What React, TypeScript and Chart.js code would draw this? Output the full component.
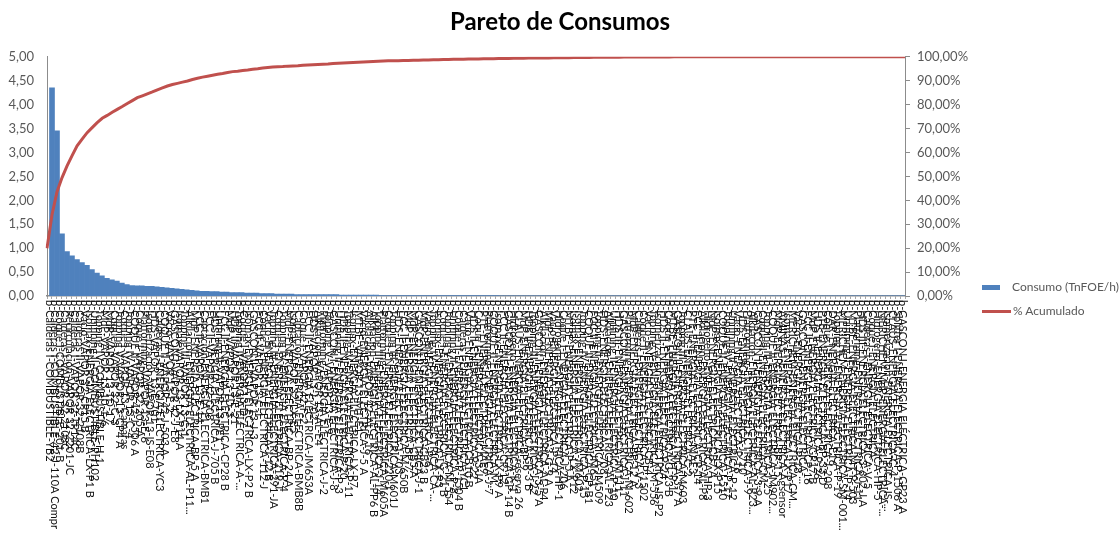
import { useEffect, useRef } from 'react';
import { Chart, registerables } from 'chart.js';
Chart.register(...registerables);

const title = 'Pareto de Consumos';
const barSeriesName = 'Consumo (TnFOE/h)';
const lineSeriesName = '% Acumulado';

const categories: string[] = [
  'b-Calderas I-COMBUSTIBLE-YB2', 'b-Calderas I-COMBUSTIBLE-42-J-110A Compr', 'b-Coque I-COMBUSTIBLE-201-B', 'b-Calderas I-VAPOR 32-2108C', 'b-Recirculacion-VAPOR 32-2201-JC',
  'b-Calderas I-VAPOR 32-TP14C', 'b-Calderas II-VAPOR 32-2108B', 'b-Vacio-VAPOR 32-CP15 B', 'b-Isomax-ENERGIA ELECTRICA-LX-P1 B', 'b-Unifining II-COMBUSTIBLE-PH102',
  'b-Topping IV-COMBUSTIBLE-H-1', 'b-MdP-VAPOR 13-10-1-6', 'b-MdP-VAPOR 13-TD-17', 'b-Coque I-VAPOR 32-C-3', 'b-Topping V-VAPOR 13-CP4 A',
  'b-Coque I-VAPOR 13-Camaras', 'b-Topping IV-VAPOR 13-C-4', 'b-COQUE II-VAPOR 42-J-506 A', 'b-Coque I-VAPOR 32-205 A', 'b-Platforming-VAPOR 13-E-6',
  'b-Isomerizacion-VAPOR 13-IS-E08', 'b-HDS-VAPOR 13-E-701', 'b-Calderas I-ENERGIA ELECTRICA-YC3', 'b-COQUE II-VAPOR 42-J-503 A', 'b-Vacio-VAPOR 13-E-2',
  'b-GASCON I-VAPOR 42-J-E8', 'b-Isomax-VAPOR 13-LX-P14 A', 'b-Topping III-VAPOR 13-C-1', 'b-Alkilacion-ENERGIA ELECTRICA-AL-P11...', 'b-MdP-ENERGIA ELECTRICA-BP-5 A',
  'b-FCC II-VAPOR 13-E-14', 'b-Captacion-ENERGIA ELECTRICA-BMB1', 'b-FCC II-VAPOR 42-G08', 'b-HDS-ENERGIA ELECTRICA-J-705 B', 'b-Unifining II-VAPOR 13-PE1',
  'b-FCC II-ENERGIA ELECTRICA-CP28 B', 'b-MdP-VAPOR 13-TD-3', 'b-HDS II-VAPOR 13-E-21', 'b-Topping II-ENERGIA ELECTRICA-A-...', 'b-Coque I-VAPOR 13-D-7',
  'b-Isomax-ENERGIA ELECTRICA-LX-P2 B', 'b-GASCON II-VAPOR 13-J-3', 'b-FCC II-VAPOR 13-C-1', 'b-Coque I-ENERGIA ELECTRICA-112-J', 'b-Vacio-ENERGIA ELECTRICA-J-12 B',
  'b-Topping III-ENERGIA ELECTRICA-291-JA', 'b-Coque I-ENERGIA ELECTRICA-219-J', 'b-Topping IV-ENERGIA ELECTRICA-P-4', 'b-MdP-ENERGIA ELECTRICA-BP-24 A', 'b-Isomax-VAPOR 32-LX-E5',
  'b-Captacion-ENERGIA ELECTRICA-BMB8B', 'b-Coque I-VAPOR 42-F-2', 'b-FCC II-ENERGIA ELECTRICA-JM653A', 'b-HDS-VAPOR 13-J-702', 'b-Alkilacion-VAPOR 13-AL-E4',
  'b-Platforming-ENERGIA ELECTRICA-J-2', 'b-Topping V-VAPOR 13-E-9', 'b-GASCON I-ENERGIA ELECTRICA-J-8', 'b-Unifining II-ENERGIA ELECTRICA-P-3', 'b-HDS II-ENERGIA ELECTRICA-P-20',
  'b-Topping IV-ENERGIA ELECTRICA-P-11', 'b-Isomax-ENERGIA ELECTRICA-LX-P7', 'b-MTBE-VAPOR 13-MT-E1', 'b-Vacio-ENERGIA ELECTRICA-J-5 A', 'b-Alkilacion-VAPOR 42-AL-E 16',
  'b-Alkilacion-ENERGIA ELECTRICA-AL-PP6 B', 'b-Topping III-ENERGIA ELECTRICA-J-14', 'b-Platforming-ENERGIA ELECTRICA-M605A', 'b-Coque I-ENERGIA ELECTRICA-220-J', 'b-Topping III-ENERGIA ELECTRICA-M601J',
  'b-HDS-ENERGIA ELECTRICA-J-703', 'b-FCC II-ENERGIA ELECTRICA-M 650B', 'b-MdP-ENERGIA ELECTRICA-BP-7', 'b-MdP-ENERGIA ELECTRICA-CB5 A', 'b-GASCON II-ENERGIA ELECTRICA-J-1',
  'b-MdP-ENERGIA ELECTRICA-CB23 B', 'b-Vacio-ENERGIA ELECTRICA-P-6', 'b-Topping IV-ENERGIA ELECTRICA-CA-...', 'b-Isomax-ENERGIA ELECTRICA-LX-P3', 'b-Coque I-ENERGIA ELECTRICA-G-21 B',
  'b-Topping V-ENERGIA ELECTRICA-M-554', 'b-Unifining II-ENERGIA ELECTRICA-P-8', 'b-Coque II-ENERGIA ELECTRICA-P-1504 B', 'b-Calderas I-ENERGIA ELECTRICA-YC1', 'b-Vacio-ENERGIA ELECTRICA-CB10 B',
  'b-HDS II-ENERGIA ELECTRICA-P-22', 'b-Coque I-ENERGIA ELECTRICA-3-JA', 'b-PTE-ENERGIA ELECTRICA-MAE9', 'b-Platforming-ENERGIA ELECTRICA-J-7', 'b-COQUE II-ENERGIA ELECTRICA-M...',
  'b-Isomax-ENERGIA ELECTRICA-LX-P9 A', 'b-FCC II-ENERGIA ELECTRICA-CP-12', 'b-GASCON I-ENERGIA ELECTRICA-GP-14 B', 'b-Hidrogeno-ENERGIA ELECTRICA-K-1', 'b-CLAUS-ENERGIA ELECTRICA-reserva 26',
  'b-MdP-ENERGIA ELECTRICA-BP-9', 'b-HDS II-ENERGIA ELECTRICA-GP-3 B', 'b-Topping III-ENERGIA ELECTRICA-J-22', 'b-GASCON II-ENERGIA ELECTRICA-3-5 A', 'b-Alkilacion-ENERGIA ELECTRICA-AL-P4',
  'b-MdP-ENERGIA ELECTRICA-3-G-9 A', 'b-Vacio-ENERGIA ELECTRICA-P-14', 'b-Hidrogeno-ENERGIA ELECTRICA-HP-1', 'b-Coque I-ENERGIA ELECTRICA-J-206', 'b-MTBE-ENERGIA ELECTRICA-P-5 A',
  'b-Isomax-ENERGIA ELECTRICA-LX-P12', 'b-Isomax-ENERGIA ELECTRICA-JM602', 'b-Topping IV-ENERGIA ELECTRICA-P-15', 'b-COQUE II-ENERGIA ELECTRICA-CP-B1', 'b-FCC II-ENERGIA ELECTRICA-JM651',
  'b-Topping II-ENERGIA ELECTRICA-JM509', 'b-HDS-ENERGIA ELECTRICA-J-708', 'b-Alkilacion-ENERGIA ELECTRICA-AL-P23', 'b-Unifining II-ENERGIA ELECTRICA-P-10', 'b-HDS III-ENERGIA ELECTRICA-JM111...',
  'b-GASCON I-ENERGIA ELECTRICA-J-11', 'b-Platforming-ENERGIA ELECTRICA-M-602', 'b-MdP-ENERGIA ELECTRICA-BP-12 A', 'b-Calderas I-ENERGIA ELECTRICA-V-3', 'b-Coque II-ENERGIA ELECTRICA-P-1502',
  'b-Vacio-ENERGIA ELECTRICA-CB-4', 'b-Topping V-ENERGIA ELECTRICA-M-556', 'b-Isomerizacion-ENERGIA ELECTRICA-IS-P2', 'b-HDS II-ENERGIA ELECTRICA-P-24', 'b-Coque I-ENERGIA ELECTRICA-G-23 B',
  'b-MTBE-ENERGIA ELECTRICA-MT-P-1', 'b-GASCON II-ENERGIA ELECTRICA-3-7 A', 'b-Topping III-ENERGIA ELECTRICA-M603', 'b-CLAUS-ENERGIA ELECTRICA-C-2', 'b-PTE-ENERGIA ELECTRICA-MAE3',
  'b-FCC II-ENERGIA ELECTRICA-CP-14', 'b-Alkilacion-ENERGIA ELECTRICA-AL-P8', 'b-Hidrogeno-ENERGIA ELECTRICA-HP-3', 'b-MdP-ENERGIA ELECTRICA-CB7 A', 'b-Isomax-ENERGIA ELECTRICA-LX-P15',
  'b-COQUE II-ENERGIA ELECTRICA-J-510', 'b-Topping IV-ENERGIA ELECTRICA-P-17', 'b-Unifining II-ENERGIA ELECTRICA-P-12', 'b-Vacio-ENERGIA ELECTRICA-P-16', 'b-HDS-ENERGIA ELECTRICA-J-710',
  'b-Platforming-ENERGIA ELECTRICA-J-9', 'b-Alkilacion-ENERGIA ELECTRICA-AL-P23...', 'b-GASCON II-ENERGIA ELECTRICA-3-9 A', 'b-Coque II-ENERGIA ELECTRICA-CM...', 'b-Topping III-ENERGIA ELECTRICA-J-25',
  'b-COQUE II-ENERGIA ELECTRICA-JM902...', 'b-MdP-ENERGIA ELECTRICA-BP-15', 'b-AMINAS I-ENERGIA ELECTRICA-Agsensor', 'b-Isomax-ENERGIA ELECTRICA-LX-P17', 'b-MERICHEM-ENERGIA ELECTRICA-CM...',
  'b-Vacio-ENERGIA ELECTRICA-P-18', 'b-GASCON I-ENERGIA ELECTRICA-...', 'b-FCC II-ENERGIA ELECTRICA-CP-16', 'b-MdP-ENERGIA ELECTRICA-GP17 B', 'b-HDS II-ENERGIA ELECTRICA-P-26',
  'b-PTE-ENERGIA ELECTRICA-BP-33 D', 'b-Coque I-ENERGIA ELECTRICA-J-208', 'b-DAR-ENERGIA ELECTRICA-E16', 'b-Topping IV-ENERGIA ELECTRICA-P-19', 'b-MERICHEM-ENERGIA ELECTRICA-SM-001A...',
  'b-Unifining II-ENERGIA ELECTRICA-P-14', 'b-MTBE-ENERGIA ELECTRICA-MT-P-503', 'b-Platforming-ENERGIA ELECTRICA-J-11', 'b-HDS III-ENERGIA ELECTRICA-3-602-J A', 'b-Calderas I-ENERGIA ELECTRICA-V-5',
  'b-Coque I-ENERGIA ELECTRICA-...', 'b-Hidrogeno-ENERGIA ELECTRICA-HP-5', 'b-MERICHEM MdP-ENERGIA ELECTRICA-...', 'b-Isomerizacion-ENERGIA ELECTRICA-IS-...', 'b-CLAUS-ENERGIA ELECTRICA-C-4',
  'b-Splitter I-ENERGIA ELÉCTRICA-P-1506 A', 'b-GASCON I-ENERGIA ELÉCTRICA-GP23 A',
];

const consumo: number[] = [
  4.35, 3.45, 1.3, 0.93, 0.84, 0.76, 0.7, 0.64, 0.55, 0.48,
  0.42, 0.37, 0.34, 0.31, 0.27, 0.24, 0.22, 0.21, 0.21, 0.2,
  0.2, 0.19, 0.18, 0.17, 0.16, 0.15, 0.14, 0.13, 0.12, 0.11,
  0.1, 0.1, 0.09, 0.09, 0.08, 0.08, 0.07, 0.07, 0.07, 0.06,
  0.06, 0.06, 0.05, 0.05, 0.05, 0.04, 0.04, 0.04, 0.04, 0.03,
  0.03, 0.03, 0.03, 0.03, 0.03, 0.03, 0.03, 0.03, 0.02, 0.02,
  0.02, 0.02, 0.02, 0.02, 0.02, 0.02, 0.01, 0.01, 0.01, 0.01,
  0.008, 0.008, 0.008, 0.008, 0.008, 0.008, 0.008, 0.008, 0.008, 0.008,
  0.008, 0.008, 0.008, 0.008, 0.008, 0.008, 0.008, 0.008, 0.008, 0.008,
  0.006, 0.006, 0.006, 0.006, 0.006, 0.006, 0.006, 0.006, 0.006, 0.006,
  0.006, 0.006, 0.006, 0.006, 0.006, 0.006, 0.006, 0.006, 0.006, 0.006,
  0.004, 0.004, 0.004, 0.004, 0.004, 0.004, 0.004, 0.004, 0.004, 0.004,
  0.004, 0.004, 0.004, 0.004, 0.004, 0.004, 0.004, 0.004, 0.004, 0.004,
  0.002, 0.002, 0.002, 0.002, 0.002, 0.002, 0.002, 0.002, 0.002, 0.002,
  0.002, 0.002, 0.002, 0.002, 0.002, 0.002, 0.002, 0.002, 0.002, 0.002,
  0.001, 0.001, 0.001, 0.001, 0.001, 0.001, 0.001, 0.001, 0.001, 0.001,
  0.001, 0.001, 0.001, 0.001, 0.001, 0.001, 0.001, 0.001, 0.001, 0.001,
  0.001, 0.001,
];

const acumulado: number[] = [
  20, 34, 43.6, 49.5, 54.4, 58.7, 62.8, 65.6, 68.3, 70.4,
  72.5, 74.3, 75.5, 76.8, 78, 79.2, 80.5, 81.7, 82.9, 83.7,
  84.5, 85.3, 86.2, 87, 87.8, 88.4, 88.9, 89.4, 89.9, 90.5,
  91, 91.5, 91.9, 92.3, 92.7, 93, 93.4, 93.8, 94, 94.3,
  94.5, 94.8, 95, 95.3, 95.5, 95.7, 95.8, 95.9, 96.1, 96.2,
  96.3, 96.5, 96.6, 96.7, 96.8, 96.9, 97, 97.2, 97.3, 97.4,
  97.5, 97.6, 97.7, 97.8, 97.9, 98, 98.1, 98.2, 98.3, 98.35,
  98.4, 98.45, 98.5, 98.55, 98.6, 98.65, 98.7, 98.75, 98.8, 98.85,
  98.9, 98.95, 99, 99, 99.05, 99.1, 99.1, 99.15, 99.2, 99.2,
  99.25, 99.3, 99.3, 99.35, 99.4, 99.4, 99.45, 99.5, 99.5, 99.55,
  99.55, 99.6, 99.6, 99.65, 99.65, 99.7, 99.7, 99.75, 99.75, 99.8,
  99.8, 99.8, 99.85, 99.85, 99.85, 99.9, 99.9, 99.9, 99.9, 99.92,
  99.93, 99.94, 99.95, 99.95, 99.96, 99.97, 99.97, 99.98, 99.98, 99.99,
  100, 100, 100, 100, 100, 100, 100, 100, 100, 100,
  100, 100, 100, 100, 100, 100, 100, 100, 100, 100,
  100, 100, 100, 100, 100, 100, 100, 100, 100, 100,
  100, 100, 100, 100, 100, 100, 100, 100, 100, 100,
  100, 100,
];

const FONT = 'Lato, "Open Sans", sans-serif';
const GREY_TEXT = '#595959';
const AXIS = '#8c8c8c';
const BLUE = '#4F81BD';
const RED = '#C0504D';

const rotatedLabels = {
  id: 'rotatedLabels',
  afterDraw(chart: any) {
    const xs = chart.scales.x;
    const ctx = chart.ctx as CanvasRenderingContext2D;
    ctx.save();
    ctx.font = `11px ${FONT}`;
    ctx.fillStyle = '#111111';
    ctx.textAlign = 'left';
    ctx.textBaseline = 'middle';
    const maxW = 238;
    categories.forEach((lab, i) => {
      let t = lab;
      if (ctx.measureText(t).width > maxW) {
        while (t.length > 1 && ctx.measureText(t + '...').width > maxW) t = t.slice(0, -1);
        t = t + '...';
      }
      const x = xs.getPixelForValue(i);
      ctx.save();
      ctx.translate(x, xs.top + 4);
      ctx.rotate(Math.PI / 2);
      ctx.fillText(t, 0, 0);
      ctx.restore();
    });
    ctx.restore();
  },
};

export default function App() {
  const ref = useRef<HTMLCanvasElement>(null);
  useEffect(() => {
    const chart = new Chart(ref.current as HTMLCanvasElement, {
      type: 'bar',
      data: {
        labels: categories,
        datasets: [
          {
            type: 'line',
            label: lineSeriesName,
            data: acumulado,
            xAxisID: 'x2',
            yAxisID: 'y2',
            borderColor: RED,
            backgroundColor: RED,
            borderWidth: 3,
            pointRadius: 0,
            tension: 0,
            order: 0,
          } as any,
          {
            type: 'bar',
            label: barSeriesName,
            data: consumo,
            xAxisID: 'x',
            yAxisID: 'y',
            backgroundColor: BLUE,
            borderWidth: 0,
            barThickness: 5,
            order: 1,
          } as any,
        ],
      },
      options: {
        responsive: false,
        animation: false,
        layout: { padding: { left: 0, right: 0, top: 0, bottom: 0 } },
        plugins: {
          legend: { display: false },
          tooltip: { enabled: false },
          title: {
            display: true,
            text: title,
            color: '#000000',
            font: { family: FONT, size: 24, weight: 'bold' },
            padding: { top: 8, bottom: 20 },
          },
        },
        scales: {
          x: {
            type: 'category',
            position: 'bottom',
            offset: true,
            grid: { display: true, drawOnChartArea: false, drawTicks: true, tickLength: 3, color: '#a6a6a6', offset: true },
            border: { display: true, color: AXIS, width: 1.5 },
            ticks: { display: false },
            afterFit: (s: any) => { s.height = 245; },
          },
          x2: {
            type: 'category',
            display: false,
            offset: false,
          },
          y: {
            position: 'left',
            min: 0,
            max: 5,
            grid: { display: false, drawTicks: false },
            border: { display: true, color: AXIS, width: 1 },
            ticks: {
              stepSize: 0.5,
              padding: 13,
              color: GREY_TEXT,
              font: { family: FONT, size: 13 },
              callback: (v: any) => Number(v).toFixed(2).replace('.', ','),
            },
            afterFit: (s: any) => { s.width = 47; },
          },
          y2: {
            position: 'right',
            min: 0,
            max: 100,
            grid: { display: true, drawOnChartArea: false, drawTicks: true, tickLength: 5, color: AXIS },
            border: { display: true, color: AXIS, width: 1 },
            ticks: {
              stepSize: 10,
              padding: 7,
              color: GREY_TEXT,
              font: { family: FONT, size: 13 },
              callback: (v: any) => Number(v).toFixed(2).replace('.', ',') + '%',
            },
            afterFit: (s: any) => { s.width = 215; },
          },
        },
      } as any,
      plugins: [rotatedLabels],
    });
    return () => chart.destroy();
  }, []);

  return (
    <div style={{ position: 'fixed', left: 0, top: 0, width: 1120, height: 541, background: '#ffffff', overflow: 'hidden' }}>
      <canvas ref={ref} width={1120} height={541} style={{ display: 'block' }} />
      <div style={{ position: 'absolute', left: 982, top: 278, width: 140, fontFamily: FONT, fontSize: 12, color: GREY_TEXT, lineHeight: '18px', whiteSpace: 'nowrap' }}>
        <div style={{ display: 'flex', alignItems: 'center', height: 18 }}>
          <span style={{ display: 'inline-block', width: 18, height: 5, background: BLUE, marginRight: 12, flex: 'none' }} />
          <span>{barSeriesName}</span>
        </div>
        <div style={{ display: 'flex', alignItems: 'center', height: 18, marginTop: 6 }}>
          <span style={{ display: 'inline-block', width: 29, height: 3, background: RED, marginRight: 2, flex: 'none' }} />
          <span>{lineSeriesName}</span>
        </div>
      </div>
    </div>
  );
}
